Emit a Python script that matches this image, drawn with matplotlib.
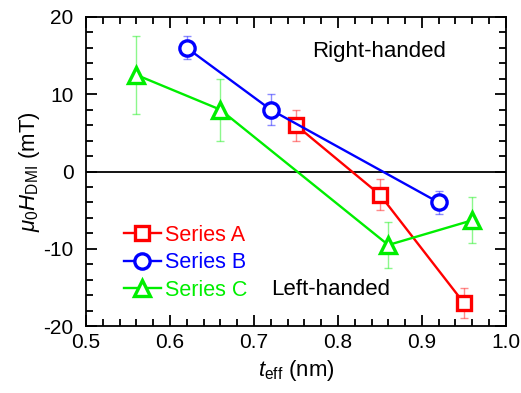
import numpy as np
import matplotlib
matplotlib.use("Agg")
import matplotlib.pyplot as plt
from matplotlib.ticker import MultipleLocator

matplotlib.rcParams["font.family"] = ["Liberation Sans", "DejaVu Sans"]
matplotlib.rcParams["mathtext.fontset"] = "custom"
matplotlib.rcParams["mathtext.rm"] = "Liberation Sans"
matplotlib.rcParams["mathtext.it"] = "Liberation Sans:italic"
matplotlib.rcParams["axes.unicode_minus"] = False
matplotlib.rcParams["font.size"] = 15

# ---- data
a_x = [0.75, 0.85, 0.95]
a_y = [6.0, -3.0, -17.0]
a_err = [2.0, 2.0, 2.0]

b_x = [0.62, 0.72, 0.92]
b_y = [16.0, 8.0, -4.0]
b_err = [1.5, 2.0, 1.5]

c_x = [0.56, 0.66, 0.86, 0.96]
c_y = [12.5, 8.0, -9.5, -6.3]
c_err = [5.0, 4.0, 3.0, 3.0]

series = [
    ("Series A", a_x, a_y, a_err, "#ff0000", "s", 10),
    ("Series B", b_x, b_y, b_err, "#0000ff", "o", 11),
    ("Series C", c_x, c_y, c_err, "#00ee00", "^", 12),
]

fig = plt.figure(figsize=(5.21, 3.93), dpi=100)
ax = fig.add_axes([0.165, 0.170, 0.806, 0.787])

ax.axhline(0, color="black", linewidth=1.3, zorder=1)

for name, x, y, e, color, marker, ms in series:
    ax.errorbar(x, y, yerr=e, fmt="none", ecolor=color, alpha=0.45,
                elinewidth=1.0, capsize=3, capthick=1.0, zorder=2)
    ax.plot(x, y, color=color, marker=marker, markersize=ms,
            markerfacecolor="white", markeredgecolor=color,
            markeredgewidth=2.4, linewidth=1.7, label=name, zorder=3)

ax.set_xlim(0.5, 1.0)
ax.set_ylim(-20, 20)
ax.xaxis.set_major_locator(MultipleLocator(0.1))
ax.xaxis.set_minor_locator(MultipleLocator(0.02))
ax.yaxis.set_major_locator(MultipleLocator(10))
ax.yaxis.set_minor_locator(MultipleLocator(2))
ax.xaxis.set_major_formatter(matplotlib.ticker.FormatStrFormatter("%.1f"))
ax.tick_params(which="both", direction="in", top=True, right=True,
               labelsize=15, width=1.3)
ax.tick_params(which="major", length=8)
ax.tick_params(axis="x", which="major", pad=5)
ax.tick_params(axis="y", which="major", pad=9)
ax.tick_params(which="minor", length=5)
for sp in ax.spines.values():
    sp.set_linewidth(1.3)

ax.set_xlabel(r"$t_{\rm eff}$ (nm)", fontsize=16, labelpad=4)
ax.set_ylabel(r"$\mu_0H_{\rm DMI}$ (mT)", fontsize=16, labelpad=1)

ax.text(0.769, 15.5, "Right-handed", fontsize=16, ha="left", va="center")
ax.text(0.721, -15.2, "Left-handed", fontsize=16, ha="left", va="center")

leg = ax.legend(loc="upper left", bbox_to_anchor=(0.07, 0.355), frameon=False,
                fontsize=15.5, handlelength=1.7, handletextpad=0.2,
                labelspacing=0.3, borderaxespad=0)
for txt, (_, _, _, _, color, _, _) in zip(leg.get_texts(), series):
    txt.set_color(color)

fig.savefig("out.png", dpi=100)
